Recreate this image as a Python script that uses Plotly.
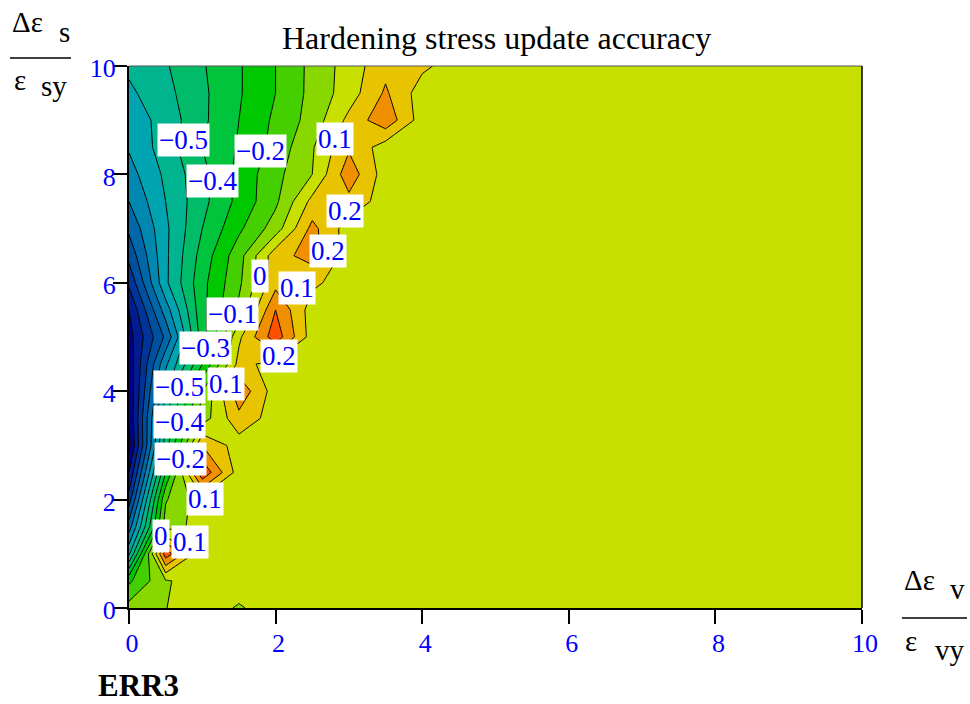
import plotly.graph_objects as go

# Grid of normalised strain increments
dv = [0, 0.5, 1, 1.5, 2, 2.5, 3, 3.5, 4, 4.5, 5, 5.5, 6, 6.5, 7, 7.5, 8, 8.5, 9, 9.5, 10]   # Δε_v / ε_vy
ds = [0, 0.5, 1, 1.5, 2, 2.5, 3, 3.5, 4, 4.5, 5, 5.5, 6, 6.5, 7, 7.5, 8, 8.5, 9, 9.5, 10]   # Δε_s / ε_sy

# ERR3: one row per Δε_s value, one column per Δε_v value
err3 = [
    [-0.06, -0.002, 0.05, -0.01, 0.05, 0.05, 0.05, 0.05, 0.05, 0.05, 0.05, 0.05, 0.05, 0.05, 0.05, 0.05, 0.05, 0.05, 0.05, 0.05, 0.05],
    [-0.22, -0.01, 0.05, 0.05, 0.05, 0.05, 0.05, 0.05, 0.05, 0.05, 0.05, 0.05, 0.05, 0.05, 0.05, 0.05, 0.05, 0.05, 0.05, 0.05, 0.05],
    [-0.62, 0.36, 0.02, 0.05, 0.05, 0.05, 0.05, 0.05, 0.05, 0.05, 0.05, 0.05, 0.05, 0.05, 0.05, 0.05, 0.05, 0.05, 0.05, 0.05, 0.05],
    [-0.85, -0.05, 0.04, 0.05, 0.05, 0.05, 0.05, 0.05, 0.05, 0.05, 0.05, 0.05, 0.05, 0.05, 0.05, 0.05, 0.05, 0.05, 0.05, 0.05, 0.05],
    [-1.05, -0.11, 0.06, 0.05, 0.05, 0.05, 0.05, 0.05, 0.05, 0.05, 0.05, 0.05, 0.05, 0.05, 0.05, 0.05, 0.05, 0.05, 0.05, 0.05, 0.05],
    [-1.20, -0.30, 0.38, 0.05, 0.05, 0.05, 0.05, 0.05, 0.05, 0.05, 0.05, 0.05, 0.05, 0.05, 0.05, 0.05, 0.05, 0.05, 0.05, 0.05, 0.05],
    [-1.33, -0.45, 0.20, 0.05, 0.05, 0.05, 0.05, 0.05, 0.05, 0.05, 0.05, 0.05, 0.05, 0.05, 0.05, 0.05, 0.05, 0.05, 0.05, 0.05, 0.05],
    [-1.29, -0.50, -0.05, 0.17, 0.05, 0.05, 0.05, 0.05, 0.05, 0.05, 0.05, 0.05, 0.05, 0.05, 0.05, 0.05, 0.05, 0.05, 0.05, 0.05, 0.05],
    [-1.28, -0.62, -0.10, 0.27, 0.05, 0.05, 0.05, 0.05, 0.05, 0.05, 0.05, 0.05, 0.05, 0.05, 0.05, 0.05, 0.05, 0.05, 0.05, 0.05, 0.05],
    [-1.27, -0.72, -0.30, 0.135, 0.06, 0.05, 0.05, 0.05, 0.05, 0.05, 0.05, 0.05, 0.05, 0.05, 0.05, 0.05, 0.05, 0.05, 0.05, 0.05, 0.05],
    [-1.24, -0.88, -0.35, 0.08, 0.36, 0.05, 0.05, 0.05, 0.05, 0.05, 0.05, 0.05, 0.05, 0.05, 0.05, 0.05, 0.05, 0.05, 0.05, 0.05, 0.05],
    [-1.20, -0.75, -0.33, -0.08, 0.30, 0.05, 0.05, 0.05, 0.05, 0.05, 0.05, 0.05, 0.05, 0.05, 0.05, 0.05, 0.05, 0.05, 0.05, 0.05, 0.05],
    [-1.08, -0.62, -0.33, -0.12, 0.165, 0.12, 0.05, 0.05, 0.05, 0.05, 0.05, 0.05, 0.05, 0.05, 0.05, 0.05, 0.05, 0.05, 0.05, 0.05, 0.05],
    [-0.97, -0.62, -0.36, -0.14, 0.16, 0.24, 0.05, 0.05, 0.05, 0.05, 0.05, 0.05, 0.05, 0.05, 0.05, 0.05, 0.05, 0.05, 0.05, 0.05, 0.05],
    [-0.88, -0.62, -0.40, -0.22, -0.05, 0.23, 0.05, 0.05, 0.05, 0.05, 0.05, 0.05, 0.05, 0.05, 0.05, 0.05, 0.05, 0.05, 0.05, 0.05, 0.05],
    [-0.80, -0.60, -0.43, -0.27, -0.12, 0.13, 0.17, 0.05, 0.05, 0.05, 0.05, 0.05, 0.05, 0.05, 0.05, 0.05, 0.05, 0.05, 0.05, 0.05, 0.05],
    [-0.74, -0.58, -0.43, -0.27, -0.13, 0.00, 0.26, 0.05, 0.05, 0.05, 0.05, 0.05, 0.05, 0.05, 0.05, 0.05, 0.05, 0.05, 0.05, 0.05, 0.05],
    [-0.69, -0.55, -0.40, -0.29, -0.165, -0.01, 0.186, 0.05, 0.05, 0.05, 0.05, 0.05, 0.05, 0.05, 0.05, 0.05, 0.05, 0.05, 0.05, 0.05, 0.05],
    [-0.66, -0.56, -0.42, -0.30, -0.18, -0.06, 0.127, 0.27, 0.05, 0.05, 0.05, 0.05, 0.05, 0.05, 0.05, 0.05, 0.05, 0.05, 0.05, 0.05, 0.05],
    [-0.62, -0.53, -0.42, -0.31, -0.20, -0.07, 0.05, 0.215, 0.05, 0.05, 0.05, 0.05, 0.05, 0.05, 0.05, 0.05, 0.05, 0.05, 0.05, 0.05, 0.05],
    [-0.58, -0.51, -0.41, -0.31, -0.20, -0.072, 0.044, 0.171, 0.12, 0.05, 0.05, 0.05, 0.05, 0.05, 0.05, 0.05, 0.05, 0.05, 0.05, 0.05, 0.05],
]

# Contour levels and the fill colour of each band (lowest band first)
level_start, level_end, level_step = -1.3, 0.3, 0.1
band_colors = [
    "#2c0080", "#000088", "#001c90", "#003498", "#0050a0", "#0068a8",
    "#0088b0", "#00a4b0", "#00b490", "#00bc68", "#00c43c", "#00c800",
    "#44d000", "#88d800", "#c8e000", "#e8c400", "#f09000", "#ff5000",
]

# Inline contour labels
label_levels = [-0.5, -0.4, -0.2, 0.1, 0.2, 0.2, 0.0, 0.1, -0.1, -0.3, 0.2, 0.1, -0.5, -0.4, -0.2, 0.1, 0.0, 0.1]
label_x = [0.75, 1.14, 1.79, 2.81, 2.95, 2.71, 1.79, 2.29, 1.41, 1.04, 2.05, 1.33, 0.69, 0.69, 0.70, 1.04, 0.44, 0.83]
label_y = [8.63, 7.88, 8.43, 8.65, 7.32, 6.59, 6.13, 5.91, 5.42, 4.79, 4.65, 4.13, 4.08, 3.43, 2.75, 2.01, 1.33, 1.21]

axis_ticks = [0, 2, 4, 6, 8, 10]

SERIF = "Liberation Serif, Times New Roman, serif"
BLUE = "#0000ff"

# Piecewise-constant colour scale: one flat step per band
n_levels = int(round((level_end - level_start) / level_step)) + 1
colorscale = []
for j, c in enumerate(band_colors):
    lo = max(0.0, (j - 0.5) / n_levels)
    hi = min(1.0, (j + 0.5) / n_levels)
    colorscale.append([lo, c])
    colorscale.append([hi, c])

fig = go.Figure(
    go.Contour(
        x=dv, y=ds, z=err3,
        contours=dict(start=level_start, end=level_end, size=level_step,
                      coloring="fill", showlines=True),
        colorscale=colorscale,
        showscale=False,
        line=dict(color="black", width=1, smoothing=0),
        hoverinfo="skip",
    )
)

# Plot-area geometry in pixels
W, H = 970, 704
L, R, T, B = 129, 862, 66, 608


def px(xp):
    return (xp - L) / (R - L)


def py(yp):
    return (B - yp) / (B - T)


annotations = []
for v, x, y in zip(label_levels, label_x, label_y):
    txt = f"{v:g}".replace("-", "\u2212")
    annotations.append(dict(
        x=x, y=y, xref="x", yref="y", text=txt, showarrow=False,
        xanchor="center", yanchor="middle", bgcolor="white", borderpad=1,
        font=dict(family=SERIF, size=27, color=BLUE),
    ))


def paper_text(text, xp, yp, size, bold=False):
    if bold:
        text = f"<b>{text}</b>"
    return dict(x=px(xp), y=py(yp), xref="paper", yref="paper", text=text,
                showarrow=False, xanchor="center", yanchor="middle",
                font=dict(family=SERIF, size=size, color="black"))


annotations += [
    paper_text("Hardening stress update accuracy", 496.5, 38, 32),
    # vertical axis title: Δε_s / ε_sy
    paper_text("\u0394\u03b5", 27, 22, 29),
    paper_text("s", 64, 32, 29),
    paper_text("\u03b5", 20, 80, 29),
    paper_text("sy", 54, 86, 29),
    # horizontal axis title: Δε_v / ε_vy
    paper_text("\u0394\u03b5", 919, 580, 29),
    paper_text("v", 957, 589, 29),
    paper_text("\u03b5", 911, 641, 29),
    paper_text("vy", 950, 650, 29),
    paper_text("ERR3", 138.5, 685, 31, bold=True),
]

shapes = [
    dict(type="line", xref="paper", yref="paper", x0=px(10), x1=px(71), y0=py(58), y1=py(58),
         line=dict(color="black", width=1.5)),
    dict(type="line", xref="paper", yref="paper", x0=px(902), x1=px(967), y0=py(618), y1=py(618),
         line=dict(color="black", width=1.5)),
    dict(type="line", xref="paper", yref="paper", x0=0, x1=1, y0=1, y1=1,
         line=dict(color="#555555", width=1)),
    dict(type="line", xref="paper", yref="paper", x0=1, x1=1, y0=0, y1=1,
         line=dict(color="black", width=1.5)),
]

axis_common = dict(
    range=[0, 10], tickvals=axis_ticks, ticks="outside", tickcolor="black",
    tickwidth=2, showline=True, linecolor="black", linewidth=2,
    showgrid=False, zeroline=False,
    tickfont=dict(family=SERIF, size=26, color=BLUE),
)

fig.update_layout(
    width=W, height=H, autosize=False,
    margin=dict(l=L, r=W - R, t=T, b=H - B, pad=0),
    paper_bgcolor="white", plot_bgcolor="white",
    xaxis=dict(**axis_common, ticklen=14, ticklabelshift=3, ticklabelstandoff=-3),
    yaxis=dict(**axis_common, ticklen=14, ticklabelshift=2, ticklabelstandoff=-8),
    annotations=annotations,
    shapes=shapes,
    showlegend=False,
)

fig.write_html("out.html")
